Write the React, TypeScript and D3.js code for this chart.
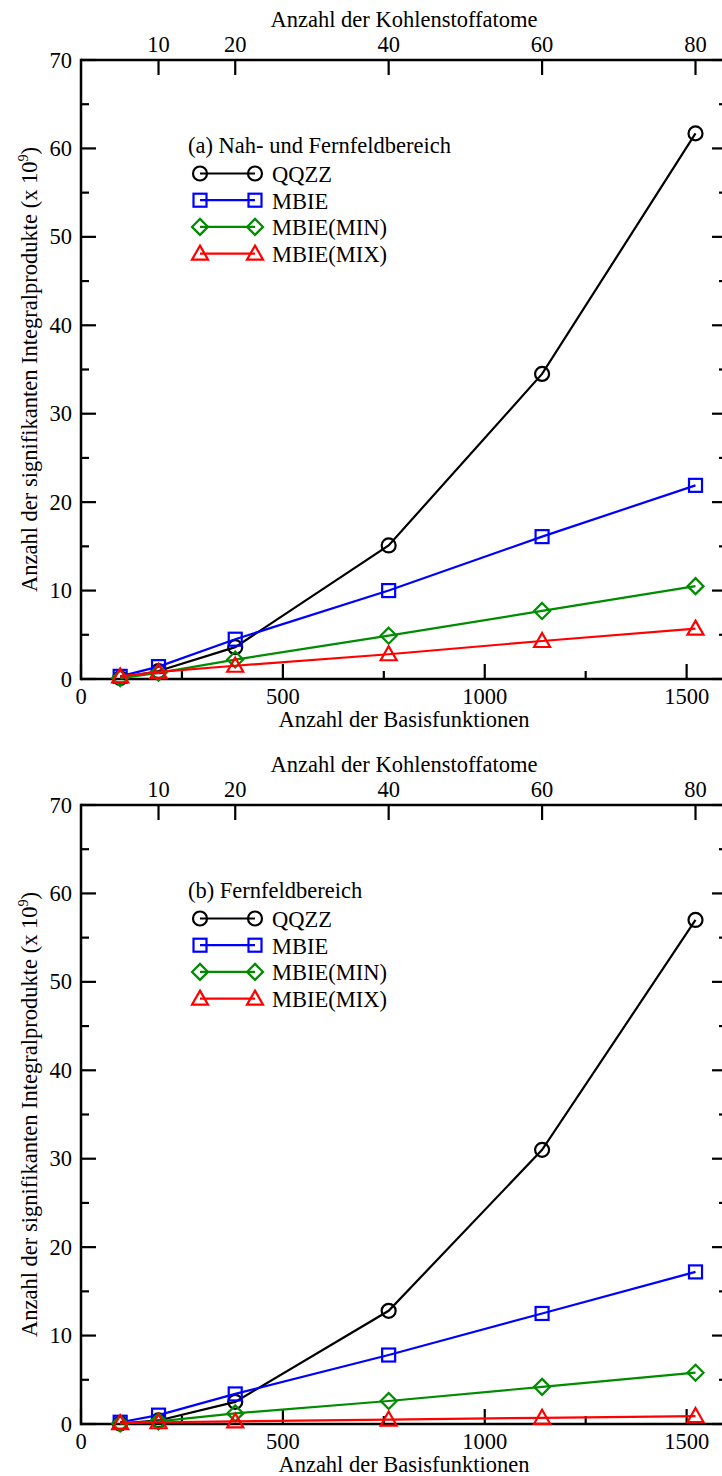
import React from 'react';
import * as d3 from 'd3';

// ---- data ----
const carbonAtoms = [5, 10, 20, 40, 60, 80];
const basisFunctions = [97, 192, 382, 762, 1142, 1522];
const seriesNames = ['QQZZ', 'MBIE', 'MBIE(MIN)', 'MBIE(MIX)'];

const panelA_QQZZ = [0.1, 0.9, 3.6, 15.1, 34.5, 61.7];
const panelA_MBIE = [0.3, 1.4, 4.5, 10.0, 16.1, 21.9];
const panelA_MIN = [0.1, 0.7, 2.2, 4.9, 7.7, 10.5];
const panelA_MIX = [0.3, 0.8, 1.5, 2.8, 4.3, 5.7];

const panelB_QQZZ = [0.05, 0.4, 2.5, 12.8, 31.0, 57.0];
const panelB_MBIE = [0.2, 1.0, 3.4, 7.8, 12.5, 17.2];
const panelB_MIN = [0.05, 0.3, 1.2, 2.6, 4.2, 5.8];
const panelB_MIX = [0.1, 0.2, 0.3, 0.5, 0.7, 0.9];

const yTicks = [0, 10, 20, 30, 40, 50, 60, 70];
const yMinorTicks = [5, 15, 25, 35, 45, 55, 65];
const xTicks = [0, 500, 1000, 1500];
const xMinorTicks = [250, 750, 1250];
const atomTicks = [10, 20, 40, 60, 80];

const panelTitles = ['(a) Nah- und Fernfeldbereich', '(b) Fernfeldbereich'];
const xTitle = 'Anzahl der Basisfunktionen';
const topTitle = 'Anzahl der Kohlenstoffatome';
const yTitle = 'Anzahl der signifikanten Integralprodukte (x 10';

// ---- styles ----
const colors = ['#000000', '#0000ff', '#008c00', '#ff0000'];
const shapes = ['circle', 'square', 'diamond', 'triangle'];
const FONT = "'Liberation Serif', 'Times New Roman', 'DejaVu Serif', serif";
const FS = 22.5;

const LEFT = 81;
const RIGHT = 727;

const xScale = d3.scaleLinear().domain([0, 1600]).range([LEFT, RIGHT]);
// top axis: carbon atoms n correspond to 19n+2 basis functions
const atomScale = d3.scaleLinear().domain([-2 / 19, 1598 / 19]).range([LEFT, RIGHT]);

function Marker({ shape, x, y, color }: { shape: string; x: number; y: number; color: string }) {
  const common = { fill: 'none', stroke: color, strokeWidth: 2.2 };
  if (shape === 'circle') return <circle cx={x} cy={y} r={7} {...common} />;
  if (shape === 'square') return <rect x={x - 6.5} y={y - 6.5} width={13} height={13} {...common} />;
  if (shape === 'diamond') {
    const s = 8;
    return <path d={`M${x},${y - s}L${x + s},${y}L${x},${y + s}L${x - s},${y}Z`} {...common} />;
  }
  const s = 8;
  return <path d={`M${x},${y - s}L${x + s},${y + s * 0.75}L${x - s},${y + s * 0.75}Z`} {...common} />;
}

function Panel({ top, bottom, title, data }: { top: number; bottom: number; title: string; data: number[][] }) {
  const yScale = d3.scaleLinear().domain([0, 70]).range([bottom, top]);
  const line = d3
    .line<number>()
    .x((_, i) => xScale(basisFunctions[i]))
    .y((d) => yScale(d));
  const cy = (top + bottom) / 2;
  const legendY0 = top + 114;
  const legendStep = 26.7;
  return (
    <g>
      {/* frame */}
      <g stroke="#000" strokeWidth={2.5} fill="none">
        <line x1={LEFT} y1={top} x2={RIGHT} y2={top} />
        <line x1={LEFT} y1={bottom} x2={RIGHT} y2={bottom} />
        <line x1={LEFT} y1={top - 1.25} x2={LEFT} y2={bottom + 1.25} />
        <line x1={RIGHT} y1={top} x2={RIGHT} y2={bottom} />
      </g>
      {/* ticks */}
      <g stroke="#000" strokeWidth={2.2}>
        {yTicks.map((t) => (
          <g key={'y' + t}>
            <line x1={LEFT} x2={LEFT + 15} y1={yScale(t)} y2={yScale(t)} />
            <line x1={RIGHT} x2={RIGHT - 15} y1={yScale(t)} y2={yScale(t)} />
          </g>
        ))}
        {yMinorTicks.map((t) => (
          <g key={'ym' + t}>
            <line x1={LEFT} x2={LEFT + 8} y1={yScale(t)} y2={yScale(t)} />
            <line x1={RIGHT} x2={RIGHT - 8} y1={yScale(t)} y2={yScale(t)} />
          </g>
        ))}
        {xTicks.map((t) => (
          <line key={'x' + t} x1={xScale(t)} x2={xScale(t)} y1={bottom} y2={bottom - 15} />
        ))}
        {xMinorTicks.map((t) => (
          <line key={'xm' + t} x1={xScale(t)} x2={xScale(t)} y1={bottom} y2={bottom - 8} />
        ))}
        {atomTicks.map((t) => (
          <line key={'a' + t} x1={atomScale(t)} x2={atomScale(t)} y1={top} y2={top + 15} />
        ))}
      </g>
      {/* tick labels */}
      <g fontFamily={FONT} fontSize={FS} fill="#000">
        {yTicks.map((t) => (
          <text key={'yl' + t} x={LEFT - 9} y={yScale(t)} textAnchor="end" dominantBaseline="central">
            {t}
          </text>
        ))}
        {xTicks.map((t) => (
          <text key={'xl' + t} x={xScale(t)} y={bottom + 17} textAnchor="middle" dominantBaseline="central">
            {t}
          </text>
        ))}
        {atomTicks.map((t) => (
          <text key={'al' + t} x={atomScale(t)} y={top - 16} textAnchor="middle" dominantBaseline="central">
            {t}
          </text>
        ))}
        <text x={(LEFT + RIGHT) / 2} y={bottom + 40} textAnchor="middle" dominantBaseline="central">
          {xTitle}
        </text>
        <text x={(LEFT + RIGHT) / 2} y={top - 41} textAnchor="middle" dominantBaseline="central">
          {topTitle}
        </text>
        <text transform={`translate(37,${cy}) rotate(-90)`} textAnchor="middle">
          {yTitle}
          <tspan fontSize={FS * 0.62} dy={-9}>9</tspan>
          <tspan dy={9}>)</tspan>
        </text>
      </g>
      {/* series */}
      {data.map((vals, si) => (
        <g key={'s' + si}>
          <path d={line(vals) || ''} fill="none" stroke={colors[si]} strokeWidth={2.2} />
          {vals.map((v, i) => (
            <Marker key={i} shape={shapes[si]} x={xScale(basisFunctions[i])} y={yScale(v)} color={colors[si]} />
          ))}
        </g>
      ))}
      {/* legend */}
      <g fontFamily={FONT} fontSize={FS} fill="#000">
        <text x={188} y={legendY0 - 29} dominantBaseline="central">
          {title}
        </text>
        {seriesNames.map((n, si) => {
          const y = legendY0 + si * legendStep - 0.5;
          return (
            <g key={'lg' + si}>
              <line x1={200} x2={255} y1={y} y2={y} stroke={colors[si]} strokeWidth={2.2} />
              <Marker shape={shapes[si]} x={200} y={y} color={colors[si]} />
              <Marker shape={shapes[si]} x={255} y={y} color={colors[si]} />
              <text x={272} y={y + 1} dominantBaseline="central">
                {n}
              </text>
            </g>
          );
        })}
      </g>
    </g>
  );
}

export default function App() {
  const dataA = [panelA_QQZZ, panelA_MBIE, panelA_MIN, panelA_MIX];
  const dataB = [panelB_QQZZ, panelB_MBIE, panelB_MIN, panelB_MIX];
  return (
    <svg
      width={722}
      height={1476}
      style={{ position: 'absolute', left: 0, top: 0, background: '#fff' }}
    >
      <rect x={0} y={0} width={722} height={1476} fill="#fff" />
      <Panel top={60} bottom={679} title={panelTitles[0]} data={dataA} />
      <Panel top={805} bottom={1424} title={panelTitles[1]} data={dataB} />
    </svg>
  );
}
